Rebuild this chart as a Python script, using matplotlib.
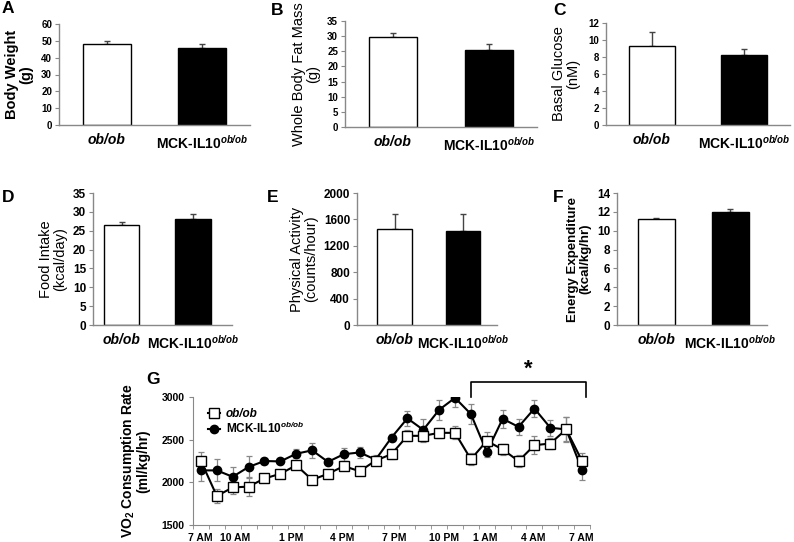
import numpy as np
import matplotlib
matplotlib.use("Agg")
import matplotlib.pyplot as plt

plt.rcParams['font.family'] = ['Liberation Sans', 'DejaVu Sans']
plt.rcParams['mathtext.fontset'] = 'custom'
plt.rcParams['mathtext.rm'] = 'Liberation Sans:italic:bold'
plt.rcParams['mathtext.it'] = 'Liberation Sans:italic:bold'
plt.rcParams['mathtext.bf'] = 'Liberation Sans:bold'

# ---- data ----
groups = ["ob/ob", r"MCK-IL10$^{ob/ob}$"]
body_weight = [48.2, 45.8]
body_weight_err = [1.6, 2.3]
fat_mass = [29.7, 25.5]
fat_mass_err = [1.5, 2.0]
glucose = [9.25, 8.2]
glucose_err = [1.65, 0.7]
food_intake = [26.4, 28.2]
food_intake_err = [0.9, 1.1]
activity = [1460, 1420]
activity_err = [215, 260]
energy = [11.2, 12.0]
energy_err = [0.12, 0.28]

hour_labels = ["7 AM", "10 AM", "1 PM", "4 PM", "7 PM", "10 PM", "1 AM", "4 AM", "7 AM"]
vo2_obob = [2250, 1840, 1940, 1950, 2045, 2100, 2200, 2030, 2100, 2190, 2130, 2255,
            2330, 2545, 2545, 2580, 2580, 2270, 2485, 2385, 2250, 2435, 2455, 2620, 2250]
vo2_obob_err = [100, 85, 80, 115, 40, 20, 30, 45, 25, 40, 20, 40,
                55, 65, 75, 60, 75, 70, 100, 60, 75, 105, 60, 140, 95]
vo2_mck = [2140, 2140, 2065, 2180, 2250, 2245, 2335, 2375, 2240, 2330, 2350, 2265,
           2525, 2750, 2615, 2850, 2990, 2800, 2355, 2745, 2650, 2865, 2640, 2620, 2145]
vo2_mck_err = [130, 130, 115, 125, 40, 20, 55, 85, 20, 75, 65, 50,
               40, 85, 125, 115, 110, 115, 55, 105, 95, 95, 95, 150, 120]

W, H = 794, 542
fig = plt.figure(figsize=(W / 100, H / 100), dpi=100)


def box(l, b, r, t):
    return [l / W, 1 - b / H, (r - l) / W, (b - t) / H]


def bar_panel(rect, xlim, vals, errs, ylim, yticks, ylabel, lab_bold, tick_fs, lab_fs, lpad):
    ax = fig.add_axes(box(*rect))
    x = np.arange(len(vals))
    ax.bar(x, vals, width=0.5, color=["white", "black"], edgecolor="black", linewidth=1.0,
           zorder=2)
    ax.errorbar(x, vals, yerr=[np.zeros(len(errs)), errs], fmt="none", ecolor="#444444",
                elinewidth=1.0, capsize=2.5, capthick=1.0, zorder=1)
    ax.set_xlim(*xlim)
    ax.set_ylim(*ylim)
    ax.set_yticks(yticks)
    ax.set_yticklabels([str(t) for t in yticks], fontsize=tick_fs, fontweight="bold")
    ax.set_xticks(x)
    ax.set_xticklabels(groups, fontsize=10, fontweight="bold")
    ax.get_xticklabels()[0].set_fontstyle("italic")
    ax.tick_params(axis="x", length=0, pad=6)
    ax.tick_params(axis="y", length=3, width=0.8, color="#888888", pad=2)
    for s in ["top", "right"]:
        ax.spines[s].set_visible(False)
    for s in ["left", "bottom"]:
        ax.spines[s].set_color("#888888")
        ax.spines[s].set_linewidth(1.0)
    ax.set_ylabel(ylabel, fontsize=lab_fs, fontweight="bold" if lab_bold else "normal",
                  labelpad=lpad, linespacing=1.0)
    return ax


bar_panel((59, 125, 250, 24), (-0.5, 1.5), body_weight, body_weight_err, (0, 60),
          range(0, 61, 10), "Body Weight\n(g)", True, 7, 10.5, 6)
bar_panel((345, 127, 537, 21), (-0.5, 1.5), fat_mass, fat_mass_err, (0, 35),
          range(0, 36, 5), "Whole Body Fat Mass\n(g)", False, 7, 10.5, 5)
bar_panel((606, 125, 790, 23), (-0.5, 1.5), glucose, glucose_err, (0, 12),
          range(0, 13, 2), "Basal Glucose\n(nM)", False, 7, 10.5, 6)
bar_panel((93, 325, 232, 193), (-0.4, 1.55), food_intake, food_intake_err, (0, 35),
          range(0, 36, 5), "Food Intake\n(kcal/day)", False, 8.5, 10.5, 4)
bar_panel((357, 325, 497, 193), (-0.55, 1.5), activity, activity_err, (0, 2000),
          range(0, 2001, 400), "Physical Activity\n(counts/hour)", False, 8.5, 10.5, 4)
bar_panel((617, 325, 767, 193), (-0.53, 1.5), energy, energy_err, (0, 14),
          range(0, 15, 2), "Energy Expenditure\n(kcal/kg/hr)", True, 8.5, 9.5, 4)

# ---- panel G ----
axg = fig.add_axes(box(193, 525, 590, 397))
t = np.arange(len(vo2_obob))
axg.errorbar(t, vo2_obob, yerr=vo2_obob_err, fmt="none", ecolor="#888888",
             elinewidth=0.9, capsize=2, capthick=0.9, zorder=1)
axg.errorbar(t, vo2_mck, yerr=vo2_mck_err, fmt="none", ecolor="#888888",
             elinewidth=0.9, capsize=2, capthick=0.9, zorder=1)
axg.plot(t, vo2_mck, color="black", lw=1.5, marker="o", ms=6, mfc="black", mec="black",
         label=groups[1], zorder=3)
axg.plot(t, vo2_obob, color="black", lw=1.5, marker="s", ms=6.5, mfc="white", mec="black",
         mew=1.0, label=groups[0], zorder=4)
axg.set_xlim(-0.5, len(t) - 0.5)
axg.set_ylim(1500, 3000)
axg.set_yticks([1500, 2000, 2500, 3000])
axg.set_yticklabels(["1500", "2000", "2500", "3000"], fontsize=7.5, fontweight="bold")
axg.set_xticks([-0.05, 2.15, 5.7, 8.9, 12.2, 15.3, 17.9, 20.95, 23.95])
axg.set_xticklabels(hour_labels, fontsize=7.5, fontweight="bold")
axg.set_xticks(np.arange(-0.5, len(t), 1.0), minor=True)
axg.tick_params(axis="x", which="major", length=0, pad=6)
axg.tick_params(axis="x", which="minor", length=3, color="#888888", direction="out")
axg.tick_params(axis="y", length=3, color="#888888", pad=3)
for s in ["top", "right"]:
    axg.spines[s].set_visible(False)
for s in ["left", "bottom"]:
    axg.spines[s].set_color("#888888")
axg.set_ylabel(r"VO$_\mathbf{2}$ Consumption Rate" + "\n(ml/kg/hr)", fontsize=10,
               fontweight="bold", labelpad=8, linespacing=1.0)
h, l = axg.get_legend_handles_labels()
leg = axg.legend(h[::-1], l[::-1], loc="upper left", bbox_to_anchor=(0.02, 0.97),
                 frameon=False, prop={"size": 8.5, "weight": "bold"}, handlelength=1.0,
                 handletextpad=0.5, labelspacing=0.1, borderpad=0.1)
leg.get_texts()[0].set_fontstyle("italic")
# significance bracket
axg.plot([17, 17, 24.25, 24.25], [3000, 3170, 3170, 3000], color="black", lw=1.2,
         clip_on=False)
axg.text(20.6, 3200, "*", fontsize=16, fontweight="bold", ha="center", va="bottom")

# panel letters
for letter, px, py in [("A", 2, 1), ("B", 271, 3), ("C", 553, 3), ("D", 2, 190),
                       ("E", 267, 190), ("F", 553, 190), ("G", 146, 372)]:
    fig.text(px / W, 1 - py / H, letter, fontsize=12.5, fontweight="bold", ha="left", va="top")

fig.savefig("out.png", dpi=100)
